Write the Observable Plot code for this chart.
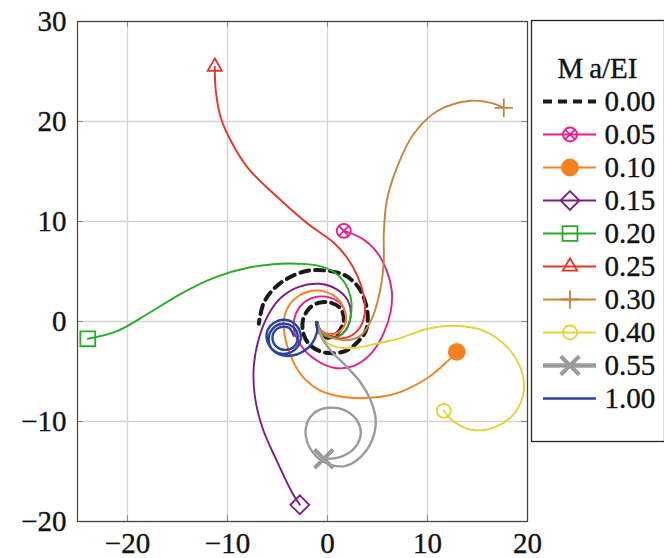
<!DOCTYPE html>
<html><head><meta charset="utf-8">
<script src="https://cdn.jsdelivr.net/npm/d3@7"></script>
<script src="https://cdn.jsdelivr.net/npm/@observablehq/plot@0.6"></script>
<style>
body{margin:0;background:#fff;}
#wrap{position:relative;width:664px;height:558px;overflow:hidden;background:#fff;}
#main{position:absolute;left:0;top:0;}
#legend{position:absolute;left:531px;top:20px;}
#wrap svg, #wrap svg text{font-family:'Liberation Serif','Times New Roman',serif !important;}
#wrap svg text{stroke:#151515;stroke-width:0.35px;}
</style></head><body><div id="wrap"><div id="main"></div><div id="legend"></div></div>
<script>
// ---- data ----
const seriesNames = ["0.00","0.05","0.10","0.15","0.20","0.25","0.30","0.40","0.55","1.00"];
const legendTitle = "M\u2009a/EI";
const xTicks = [-20,-10,0,10,20];
const yTicks = [-20,-10,0,10,20,30];

const s000 = [[-1.07,-0.13],[-0.77,-1.13],[0.03,-1.63],[1.03,-1.13],[1.63,0.07],[1.33,1.27],[0.33,1.87],[-0.87,1.87],[-1.87,1.27],[-2.47,0.07],[-2.37,-1.33],[-1.67,-2.43],[-0.17,-3.13],[1.83,-2.93],[3.13,-1.93],[3.83,-0.93],[4.03,0.27],[3.83,1.77],[3.13,3.37],[1.83,4.57],[0.03,5.07],[-1.97,5.07],[-3.87,4.37],[-5.37,3.27],[-6.37,1.87],[-6.77,0.37],[-6.87,-0.23]];
const s005 = [[-1.07,-0.13],[-0.47,-1.03],[0.63,-1.23],[1.63,-0.53],[1.83,0.57],[1.33,1.77],[0.33,2.37],[-1.07,2.47],[-2.37,1.87],[-3.17,0.77],[-3.37,-0.73],[-2.77,-2.23],[-1.47,-3.63],[0.63,-4.63],[2.63,-4.43],[4.33,-3.23],[5.63,-1.13],[6.33,1.07],[6.43,3.07],[5.93,5.07],[4.83,7.07],[3.33,8.37],[1.63,9.07]];
const s010 = [[-1.07,-0.13],[-0.67,-0.93],[0.33,-1.33],[1.33,-0.93],[1.83,0.07],[1.63,1.37],[0.93,2.37],[-0.17,2.97],[-1.47,3.07],[-2.87,2.57],[-3.87,1.57],[-4.37,0.07],[-4.17,-1.93],[-3.47,-3.93],[-2.37,-5.63],[-0.67,-6.93],[2.33,-7.63],[5.33,-7.53],[7.33,-7.03],[10.03,-5.63],[11.83,-4.13],[12.93,-3.03]];
const s015 = [[-1.07,-0.13],[-0.67,-1.03],[0.33,-1.53],[1.33,-1.33],[2.03,-0.53],[2.33,0.87],[1.93,2.27],[0.83,3.27],[-0.87,3.77],[-2.87,3.47],[-4.67,2.37],[-5.97,0.57],[-6.87,-1.73],[-7.37,-4.43],[-7.27,-7.43],[-6.47,-10.73],[-5.07,-13.93],[-3.47,-17.23],[-2.77,-18.33]];
const s020 = [[-1.07,-0.13],[-0.77,-1.03],[0.03,-1.53],[1.03,-1.53],[1.83,-0.83],[2.33,0.57],[2.33,2.37],[1.73,3.87],[0.63,4.97],[-0.87,5.57],[-2.97,5.77],[-4.67,5.77],[-7.97,5.37],[-11.37,4.37],[-14.67,2.77],[-17.97,0.77],[-20.97,-0.93],[-23.97,-1.73]];
const s025 = [[-1.07,-0.13],[-0.57,-1.03],[0.63,-1.63],[2.13,-1.53],[3.23,-0.63],[3.73,0.87],[3.63,2.57],[3.03,4.47],[2.03,6.27],[0.63,7.87],[-1.97,9.77],[-5.37,12.77],[-7.97,15.37],[-9.67,18.07],[-10.67,20.37],[-11.17,23.07],[-11.27,25.47]];
const s030 = [[-1.07,-0.13],[-0.47,-1.13],[0.83,-1.73],[2.33,-1.83],[3.53,-1.23],[4.43,0.27],[5.03,2.07],[5.43,4.07],[5.63,6.07],[5.63,8.77],[5.93,12.07],[6.93,15.37],[8.63,18.77],[11.03,21.07],[14.33,22.07],[16.33,21.87],[17.63,21.37]];
const s040 = [[-1.07,-0.13],[-0.67,-1.33],[0.13,-2.23],[1.33,-2.63],[2.83,-2.63],[4.83,-2.23],[7.03,-1.73],[10.03,-0.73],[12.63,-0.43],[15.63,-0.93],[18.03,-2.63],[19.33,-4.73],[19.63,-6.93],[18.73,-9.13],[16.83,-10.53],[14.33,-10.83],[12.53,-9.93],[11.63,-8.93]];
const s055 = [[-1.07,-0.13],[-0.67,-1.43],[0.33,-2.93],[1.83,-4.43],[3.33,-6.13],[4.33,-7.93],[4.83,-9.93],[4.43,-11.93],[3.33,-13.53],[1.83,-14.43],[0.33,-14.33],[-1.17,-13.43],[-2.07,-11.93],[-2.07,-10.23],[-1.17,-9.03],[0.13,-8.63],[1.63,-8.83],[2.83,-9.73],[3.33,-11.13],[2.73,-12.63],[1.33,-13.53],[-0.37,-13.73]];
const s100 = [[-1.07,-0.13],[-1.07,-1.13],[-1.57,-2.23],[-2.47,-3.03],[-3.67,-3.43],[-4.97,-3.23],[-5.87,-2.33],[-6.07,-1.13],[-5.47,-0.23],[-4.27,0.17],[-3.17,-0.33],[-2.67,-1.43],[-3.07,-2.63],[-4.17,-3.23],[-5.37,-2.93],[-5.87,-1.93],[-5.57,-0.83],[-4.57,-0.23],[-3.47,-0.53],[-2.97,-1.53],[-3.37,-2.53],[-4.37,-2.83],[-5.27,-2.33],[-5.47,-1.33],[-4.87,-0.63],[-3.87,-0.63],[-3.37,-1.43]];

// ---- styles (kept separate from data) ----
const seriesColors = ["#1a1a1a","#e61e8c","#f5821f","#7d1d84","#25ad25","#e5352b","#c8843f","#e4d23a","#9b9b9b","#2b43a0"];
const style = {
  "0.00": {w: 4, dash: "9,6"},
  "0.05": {w: 1.9, sym: ["circle","times"], r: [7, 4.6], fill: "none"},
  "0.10": {w: 1.9, sym: ["circle"], r: [8], fill: "color"},
  "0.15": {w: 1.9, sym: ["diamond2"], r: [8.5], fill: "none"},
  "0.20": {w: 1.9, sym: ["square2"], r: [9.5], fill: "none"},
  "0.25": {w: 1.9, sym: ["triangle2"], r: [6.8], fill: "none"},
  "0.30": {w: 1.9, sym: ["plus"], r: [6], fill: "none"},
  "0.40": {w: 1.9, sym: ["circle"], r: [7], fill: "none"},
  "0.55": {w: 2.4, lw: 4.5, sym: ["times"], r: [8.5], fill: "none", sw: 4},
  "1.00": {w: 2.4}
};
const FONT = "'Liberation Serif', 'Times New Roman', serif";

const curves = [s000,s005,s010,s015,s020,s025,s030,s040,s055,s100];
const rows = seriesNames.flatMap((name, i) => curves[i].map(([x, y], j) => ({series: name, x, y, j})));
const ends = seriesNames.map((name, i) => { const p = curves[i][curves[i].length - 1]; return {series: name, x: p[0], y: p[1]}; });
const colorOf = Object.fromEntries(seriesNames.map((n, i) => [n, seriesColors[i]]));

function markerMarks(data, xOpt, yOpt) {
  const out = [];
  for (const d of data) {
    const st = style[d.series];
    if (!st.sym) continue;
    st.sym.forEach((sym, k) => {
      out.push(Plot.dot([d], {
        x: xOpt, y: yOpt, symbol: () => sym, r: st.r[k],
        stroke: colorOf[d.series],
        fill: st.fill === "color" ? colorOf[d.series] : "none",
        strokeWidth: st.sw || 1.8
      }));
    });
  }
  return out;
}

const lineMarks = seriesNames.map(name => Plot.line(rows.filter(r => r.series === name), {
  x: "x", y: "y", stroke: colorOf[name], strokeWidth: style[name].w,
  strokeDasharray: style[name].dash || null, curve: "catmull-rom"
}));

const main = Plot.plot({
  width: 664, height: 558,
  marginLeft: 77, marginRight: 137, marginTop: 21, marginBottom: 37,
  x: {domain: [-25, 20], label: null},
  y: {domain: [-20, 30], label: null},
  style: {fontFamily: FONT, fontSize: "29px", background: "white", color: "#111"},
  marks: [
    Plot.gridX(xTicks, {stroke: "#d4d4d4", strokeOpacity: 1, strokeWidth: 1.3}),
    Plot.gridY(yTicks, {stroke: "#d4d4d4", strokeOpacity: 1, strokeWidth: 1.3}),
    Plot.gridX(xTicks, {stroke: "#8a8a8a", strokeOpacity: 1, insetTop: 494}),
    Plot.gridX(xTicks, {stroke: "#8a8a8a", strokeOpacity: 1, insetBottom: 494}),
    Plot.gridY(yTicks, {stroke: "#8a8a8a", strokeOpacity: 1, insetRight: 444}),
    Plot.gridY(yTicks, {stroke: "#8a8a8a", strokeOpacity: 1, insetLeft: 444}),
    ...lineMarks,
    ...markerMarks(ends, "x", "y"),
    Plot.frame({stroke: "#444", strokeWidth: 1.2}),
    Plot.axisX(xTicks, {tickSize: 0, tickPadding: 11, label: null, fontSize: 29}),
    Plot.axisY(yTicks, {tickSize: 0, tickPadding: 11, label: null, fontSize: 29})
  ]
});
document.getElementById("main").appendChild(main);

// ---- legend (second Plot with its own scales) ----
const legendKeys = ["title", ...seriesNames];
const legendRows = seriesNames.map(name => ({series: name}));
const legend = Plot.plot({
  width: 133, height: 421, margin: 0,
  x: {type: "linear", domain: [0, 133], range: [0, 133], axis: null},
  y: {type: "point", domain: legendKeys, range: [27, 398], axis: null},
  style: {fontFamily: FONT, fontSize: "29px", background: "white", color: "#111", overflow: "visible"},
  marks: [
    Plot.frame({stroke: "#222", strokeWidth: 1.3}),
    Plot.text([legendTitle], {x: () => 66, y: () => "title", text: d => d, textAnchor: "middle", fontSize: 29}),
    ...legendRows.map(d => Plot.ruleY([d], {
      y: "series", x1: 12, x2: 65, stroke: colorOf[d.series],
      strokeWidth: style[d.series].lw || style[d.series].w,
      strokeDasharray: style[d.series].dash || null
    })),
    ...markerMarks(legendRows, () => 38.5, "series"),
    Plot.text(legendRows, {x: () => 73, y: "series", text: "series", textAnchor: "start", fontSize: 29})
  ]
});
document.getElementById("legend").appendChild(legend);
</script></body></html>
